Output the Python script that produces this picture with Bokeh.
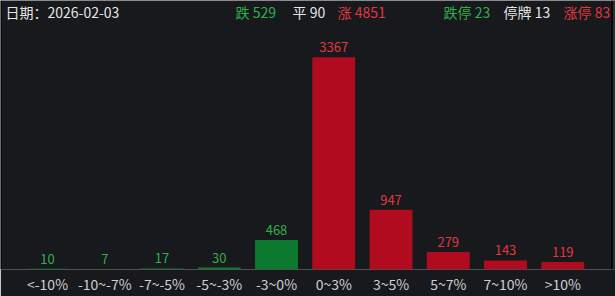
from bokeh.plotting import figure
from bokeh.models import ColumnDataSource, LabelSet, Label, Range1d, FixedTicker, BoxAnnotation
from bokeh.core.properties import value
from bokeh.embed import file_html
from bokeh.resources import INLINE

# ---- data ----
categories = ["<-10%", "-10~-7%", "-7~-5%", "-5~-3%", "-3~0%",
              "0~3%", "3~5%", "5~7%", "7~10%", ">10%"]
counts = [10, 7, 17, 30, 468, 3367, 947, 279, 143, 119]
direction = ["down", "down", "down", "down", "down", "up", "up", "up", "up", "up"]

date_text = "2026-02-03"
summary_labels = ["跌", "平", "涨", "跌停", "停牌", "涨停"]
summary_values = [529, 90, 4851, 23, 13, 83]
summary_kind = ["down", "flat", "up", "down", "flat", "up"]

# ---- styles ----
BG = "#17191d"
BAR = {"down": "#0b7a2e", "up": "#b00b1e"}
TXT = {"down": "#2fb04a", "up": "#e0383f", "flat": "#e6e6e6"}
FONT = "Noto Sans CJK SC"

W, H = 615, 296
BOTTOM = 26
FRAME_H = H - BOTTOM
STEP = 57.25      # px per category
FIRST = 47.0      # px centre of first category

idx = list(range(len(categories)))
src = ColumnDataSource(dict(
    x=idx,
    val=counts,
    txt=[str(v) for v in counts],
    bar_color=[BAR[d] for d in direction],
    txt_color=[TXT[d] for d in direction],
))

p = figure(width=W, height=H,
           x_range=Range1d(-FIRST / STEP, (W - FIRST) / STEP),
           y_range=Range1d(0, 4268), output_backend="svg", toolbar_location=None,
           min_border_left=0, min_border_right=0, min_border_top=0,
           min_border_bottom=BOTTOM)
p.background_fill_color = BG
p.border_fill_color = BG
p.outline_line_color = None
p.xgrid.visible = False
p.ygrid.visible = False
p.yaxis.visible = False

p.vbar(x="x", top="val", width=0.75, source=src, fill_color="bar_color",
       line_color=None)

p.add_layout(LabelSet(x="x", y="val", text="txt", source=src,
                      text_color="txt_color", text_font=value(FONT),
                      text_font_size="13px", text_align="center",
                      text_baseline="bottom", y_offset=5))

ax = p.xaxis[0]
ax.ticker = FixedTicker(ticks=idx)
ax.major_label_overrides = {i: c for i, c in zip(idx, categories)}
ax.axis_line_color = None
ax.major_tick_line_color = None
ax.minor_tick_line_color = None
ax.major_tick_out = 0
ax.major_tick_in = 0
ax.major_label_text_color = "#cfcfcf"
ax.major_label_text_font = FONT
ax.major_label_text_font_size = "14px"
ax.major_label_standoff = 4

# header (screen units relative to plot frame)
hy = FRAME_H - 12
p.add_layout(Label(x=5, y=hy, x_units="screen", y_units="screen",
                   text="日期：" + date_text, text_color="#e6e6e6",
                   text_font=FONT, text_font_size="14px",
                   text_baseline="middle"))
hx = [235, 292, 337, 443, 503, 563]
for xpos, lab, v, k in zip(hx, summary_labels, summary_values, summary_kind):
    p.add_layout(Label(x=xpos, y=hy, x_units="screen", y_units="screen",
                       text=f"{lab} {v}", text_color=TXT[k],
                       text_font=FONT, text_font_size="14px",
                       text_baseline="middle"))

# window edges: dark left border, right scrollbar strip
p.add_layout(BoxAnnotation(left=0, right=1.5, left_units="screen", right_units="screen",
                           fill_color="#0b0c0e", fill_alpha=1, line_color=None))
p.add_layout(BoxAnnotation(left=610.5, right=612.5, left_units="screen", right_units="screen",
                           fill_color="#070808", fill_alpha=1, line_color=None))
p.add_layout(BoxAnnotation(left=612.5, right=615, left_units="screen", right_units="screen",
                           fill_color="#2c2e31", fill_alpha=1, line_color=None))

open("out.html", "w").write(file_html(p, INLINE))
